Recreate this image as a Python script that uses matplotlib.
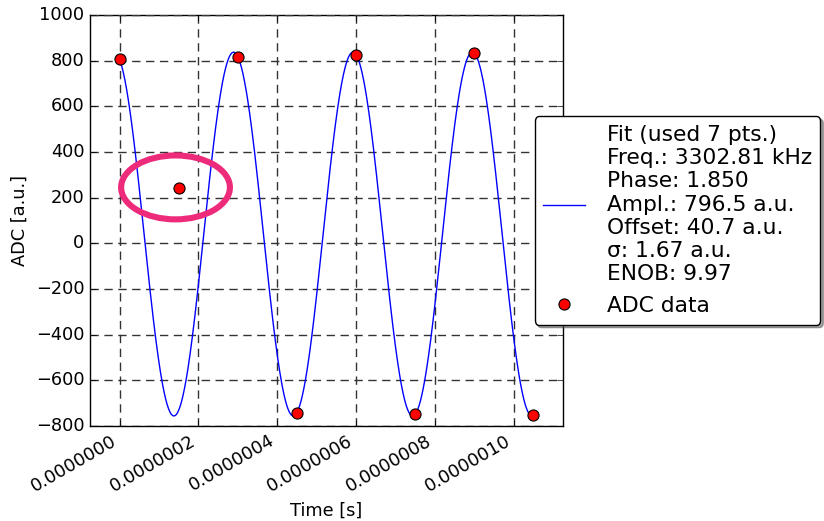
import numpy as np
import matplotlib
matplotlib.use("Agg")
import matplotlib.pyplot as plt
from matplotlib.patches import Ellipse
from matplotlib.ticker import FormatStrFormatter, MultipleLocator

plt.style.use("classic")
plt.rcParams["font.family"] = ["DejaVu Sans"]

# Sampled ADC data
t_samples = [0.0, 0.15e-6, 0.30e-6, 0.45e-6, 0.60e-6, 0.75e-6, 0.90e-6, 1.05e-6]
adc_values = [806, 243, 818, -741, 826, -749, 833, -753]

# Sine fit parameters
fit_freq_khz = 3302.81
fit_phase = 1.850
fit_ampl = 796.5
fit_offset = 40.7
fit_sigma = 1.67
fit_enob = 9.97
fit_npts = 7

# Flagged outlier sample
outlier_t = 0.142e-6
outlier_y = 245

fig = plt.figure(figsize=(8.24, 5.21), dpi=100, facecolor="white")
ax = fig.add_axes([0.1092, 0.1823, 0.5741, 0.7889])

t_fit = np.linspace(t_samples[0], t_samples[-1], 1000)
y_fit = fit_ampl * np.sin(2 * np.pi * fit_freq_khz * 1e3 * t_fit + fit_phase) + fit_offset

fit_label = (f"Fit (used {fit_npts} pts.)\n"
             f"Freq.: {fit_freq_khz:.2f} kHz\n"
             f"Phase: {fit_phase:.3f}\n"
             f"Ampl.: {fit_ampl:.1f} a.u.\n"
             f"Offset: {fit_offset:.1f} a.u.\n"
             f"σ: {fit_sigma:.2f} a.u.\n"
             f"ENOB: {fit_enob:.2f}")

ax.plot(t_fit, y_fit, color="blue", lw=1.0, label=fit_label, zorder=3)
ax.plot(t_samples, adc_values, linestyle="none", marker="o", markersize=8,
        markerfacecolor="red", markeredgecolor="black", markeredgewidth=0.8,
        label="ADC data", zorder=4)

ax.add_patch(Ellipse((outlier_t, outlier_y), width=2.76e-7, height=280,
                     fill=False, edgecolor="#ee2a7b", lw=4.4, zorder=5))

ax.set_xlim(-0.075e-6, 1.125e-6)
ax.set_ylim(-800, 1000)
ax.xaxis.set_major_locator(MultipleLocator(2e-7))
ax.yaxis.set_major_locator(MultipleLocator(200))
ax.xaxis.set_major_formatter(FormatStrFormatter("%.7f"))
ax.grid(True, linestyle="--", color="#333333", lw=1.0, dashes=(6, 4))

ax.tick_params(labelsize=12.8)
for lbl in ax.get_xticklabels():
    lbl.set_rotation(30)
    lbl.set_ha("right")

ax.set_xlabel("Time [s]", fontsize=12.8)
ax.set_ylabel("ADC [a.u.]", fontsize=12.8)

leg = ax.legend(loc="center left", bbox_to_anchor=(0.94, 0.5), borderaxespad=0,
                numpoints=1, fontsize=15.7, shadow=True, fancybox=True,
                handlelength=1.9, handletextpad=1.0, labelspacing=0.55)
leg.get_frame().set_edgecolor("black")

fig.savefig("out.png", dpi=100, facecolor="white")
